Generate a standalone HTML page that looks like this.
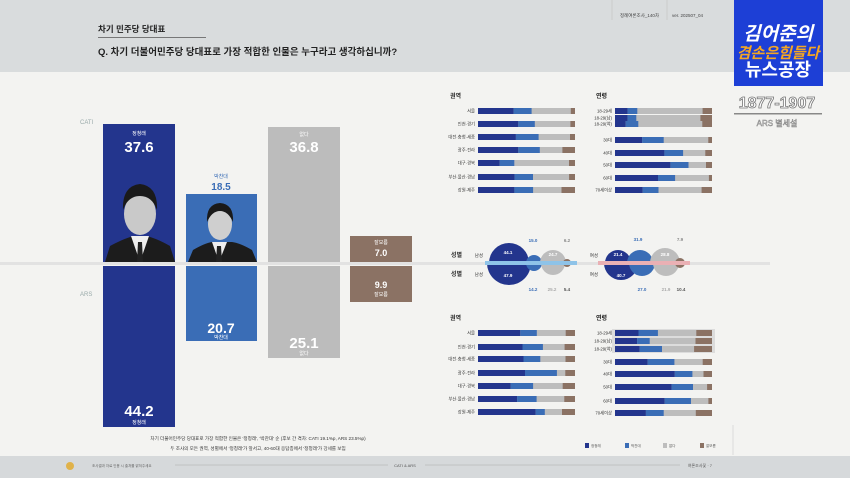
<!DOCTYPE html>
<html><head><meta charset="utf-8"><style>
html,body{margin:0;padding:0;width:850px;height:478px;overflow:hidden;background:#f3f3f1}
svg{display:block;font-family:"Liberation Sans","Noto Sans CJK KR",sans-serif}
</style></head><body>
<svg width="850" height="478" viewBox="0 0 850 478" xmlns="http://www.w3.org/2000/svg">
<rect x="0" y="0" width="850" height="72" fill="#d9dcdd"/>
<rect x="0" y="456" width="850" height="22" fill="#d6d9db"/>
<text x="98" y="32" font-size="8.5" font-weight="bold" fill="#222">차기 민주당 당대표</text>
<rect x="98" y="37" width="108" height="1" fill="#777"/>
<text x="98" y="55" font-size="9.5" font-weight="bold" fill="#222">Q. 차기 더불어민주당 당대표로 가장 적합한 인물은 누구라고 생각하십니까?</text>
<text x="620" y="17" font-size="4.5" fill="#444">정례여론조사_140차</text>
<text x="672" y="17" font-size="4.5" fill="#444">ver. 202507_04</text>
<line x1="667" y1="0" x2="667" y2="20" stroke="#bbb" stroke-width=".5"/>
<line x1="612" y1="0" x2="612" y2="20" stroke="#bbb" stroke-width=".5"/>
<!-- logo -->
<rect x="734" y="0" width="89" height="86" fill="#1d3fd6"/>
<text x="778" y="40" font-size="19" font-weight="bold" fill="#fff" text-anchor="middle" font-style="italic">김어준의</text>
<text x="778" y="58" font-size="15" font-weight="bold" fill="#f5a623" text-anchor="middle" font-style="italic">겸손은힘들다</text>
<text x="778" y="76" font-size="18" font-weight="bold" fill="#fff" text-anchor="middle">뉴스공장</text>
<text x="777" y="108" font-size="16" font-weight="bold" fill="#fff" stroke="#777" stroke-width=".8" text-anchor="middle">1877-1907</text>
<rect x="734" y="113" width="88" height="1.5" fill="#888"/>
<text x="777" y="126" font-size="8" fill="#fff" stroke="#888" stroke-width=".5" text-anchor="middle">ARS 별세설</text>
<!-- baseline -->
<rect x="0" y="262" width="770" height="3" fill="#e2e2e2"/>
<text x="80" y="124" font-size="6" fill="#9aa">CATI</text>
<text x="80" y="296" font-size="6" fill="#9aa">ARS</text>
<!-- main bars -->
<rect x="103" y="124" width="72" height="138" fill="#23358d"/>
<rect x="103" y="266" width="72" height="161" fill="#23358d"/>
<rect x="186" y="194" width="71" height="68" fill="#3a6db6"/>
<rect x="186" y="266" width="71" height="75" fill="#3a6db6"/>
<rect x="268" y="127" width="72" height="135" fill="#bcbcbc"/>
<rect x="268" y="266" width="72" height="92" fill="#bcbcbc"/>
<rect x="350" y="236" width="62" height="26" fill="#8b7264"/>
<rect x="350" y="266" width="62" height="36" fill="#8b7264"/>
<!-- photos -->
<path d="M105 262 L110 246 Q125 238 134 236 L146 236 Q156 238 170 246 L175 262Z" fill="#1c1c1c"/>
<path d="M131 236 L140 262 L149 236Z" fill="#eee"/>
<path d="M138 242 L142 242 L143 262 L137 262Z" fill="#222"/>
<ellipse cx="140" cy="214" rx="16" ry="21" fill="#c9c9c9"/>
<path d="M123 210 Q122 186 140 184 Q158 186 157 210 Q152 196 140 196 Q128 196 123 210Z" fill="#1a1a1a"/>
<path d="M188 262 L193 250 Q205 243 212 242 L232 242 Q240 243 252 250 L257 262Z" fill="#1c1c1c"/>
<path d="M212 242 L219 262 L227 242Z" fill="#eee"/>
<path d="M217 246 L221 246 L222 262 L216 262Z" fill="#222"/>
<ellipse cx="220" cy="224" rx="12" ry="16" fill="#cfcfcf"/>
<path d="M207 222 Q206 204 220 203 Q234 204 233 222 Q228 211 220 211 Q212 211 207 222Z" fill="#1a1a1a"/>
<!-- labels -->
<g fill="#fff" text-anchor="middle" font-weight="bold">
<text x="139" y="135" font-size="5" font-weight="normal">정청래</text>
<text x="139" y="152" font-size="15">37.6</text>
<text x="139" y="416" font-size="15">44.2</text>
<text x="139" y="424" font-size="5" font-weight="normal">정청래</text>
<text x="221" y="333" font-size="14">20.7</text>
<text x="221" y="339" font-size="5" font-weight="normal">박찬대</text>
<text x="304" y="136" font-size="5" font-weight="normal">없다</text>
<text x="304" y="152" font-size="15">36.8</text>
<text x="304" y="348" font-size="15">25.1</text>
<text x="304" y="355" font-size="5" font-weight="normal">없다</text>
<text x="381" y="244" font-size="5" font-weight="normal">잘모름</text>
<text x="381" y="256" font-size="9">7.0</text>
<text x="381" y="288" font-size="9">9.9</text>
<text x="381" y="296" font-size="5" font-weight="normal">잘모름</text>
</g>
<text x="221" y="178" font-size="5" fill="#3a6db6" text-anchor="middle">박찬대</text>
<text x="221" y="190" font-size="10" font-weight="bold" fill="#3a6db6" text-anchor="middle">18.5</text>
<g font-size="4.6" fill="#333" text-anchor="middle">
<text x="258" y="440">차기 더불어민주당 당대표로 가장 적합한 인물은 '정청래', '박찬대' 순 (후보 간 격차: CATI 19.1%p, ARS 23.5%p)</text>
<text x="258" y="450">두 조사의 모든 권역, 성별에서 '정청래'가 앞서고, 40-60대 응답층에서 '정청래'가 강세를 보임</text>
</g>
<!-- footer -->
<circle cx="70" cy="466" r="4" fill="#e0b24a"/>
<text x="92" y="467" font-size="3.5" fill="#666">조사결과 자료 인용 시 출처를 밝혀주세요</text>
<line x1="175" y1="465" x2="388" y2="465" stroke="#aaa" stroke-width=".5"/>
<text x="405" y="467" font-size="4" fill="#555" text-anchor="middle">CATI &amp; ARS</text>
<line x1="425" y1="465" x2="680" y2="465" stroke="#aaa" stroke-width=".5"/>
<text x="712" y="467" font-size="4" fill="#555" text-anchor="end">여론조사꽃 · 7</text>
<line x1="733" y1="425" x2="733" y2="455" stroke="#ccc" stroke-width=".6"/>

<!-- section headers -->
<g font-size="6" font-weight="bold" fill="#222">
<text x="450" y="98">권역</text><text x="596" y="98">연령</text>
<text x="450" y="320">권역</text><text x="596" y="320">연령</text>
</g>

<defs>
<g id="r"><rect x="0" y="-3" width="97" height="6" fill="#bdbdbd"/></g>
</defs>
<g font-size="4.3" fill="#333" text-anchor="end">
<!-- top region -->
<g transform="translate(0,111)"><text x="475" y="1.5">서울</text><rect x="478" y="-3" width="97" height="6" fill="#bdbdbd"/><rect x="478" y="-3" width="35.6" height="6" fill="#23358d"/><rect x="513.6" y="-3" width="18" height="6" fill="#3a6db6"/><rect x="570.8" y="-3" width="4.2" height="6" fill="#8b7264"/></g>
<g transform="translate(0,124)"><text x="475" y="1.5">인천·경기</text><rect x="478" y="-3" width="97" height="6" fill="#bdbdbd"/><rect x="478" y="-3" width="40.3" height="6" fill="#23358d"/><rect x="518.3" y="-3" width="16.5" height="6" fill="#3a6db6"/><rect x="570.4" y="-3" width="4.6" height="6" fill="#8b7264"/></g>
<g transform="translate(0,137)"><text x="475" y="1.5">대전·충청·세종</text><rect x="478" y="-3" width="97" height="6" fill="#bdbdbd"/><rect x="478" y="-3" width="37.9" height="6" fill="#23358d"/><rect x="515.9" y="-3" width="22.7" height="6" fill="#3a6db6"/><rect x="570" y="-3" width="5" height="6" fill="#8b7264"/></g>
<g transform="translate(0,150)"><text x="475" y="1.5">광주·전라</text><rect x="478" y="-3" width="97" height="6" fill="#bdbdbd"/><rect x="478" y="-3" width="40.3" height="6" fill="#23358d"/><rect x="518.3" y="-3" width="21.5" height="6" fill="#3a6db6"/><rect x="562.4" y="-3" width="12.6" height="6" fill="#8b7264"/></g>
<g transform="translate(0,163)"><text x="475" y="1.5">대구·경북</text><rect x="478" y="-3" width="97" height="6" fill="#bdbdbd"/><rect x="478" y="-3" width="21.7" height="6" fill="#23358d"/><rect x="499.7" y="-3" width="14.6" height="6" fill="#3a6db6"/><rect x="569" y="-3" width="6" height="6" fill="#8b7264"/></g>
<g transform="translate(0,177)"><text x="475" y="1.5">부산·울산·경남</text><rect x="478" y="-3" width="97" height="6" fill="#bdbdbd"/><rect x="478" y="-3" width="36.6" height="6" fill="#23358d"/><rect x="514.6" y="-3" width="18.4" height="6" fill="#3a6db6"/><rect x="569.1" y="-3" width="5.9" height="6" fill="#8b7264"/></g>
<g transform="translate(0,190)"><text x="475" y="1.5">강원·제주</text><rect x="478" y="-3" width="97" height="6" fill="#bdbdbd"/><rect x="478" y="-3" width="36.4" height="6" fill="#23358d"/><rect x="514.4" y="-3" width="18.7" height="6" fill="#3a6db6"/><rect x="561.5" y="-3" width="13.5" height="6" fill="#8b7264"/></g>
<!-- top age -->
<g transform="translate(0,111)"><text x="612" y="1.5">18-29세</text><rect x="615" y="-3" width="97" height="6" fill="#bdbdbd"/><rect x="615" y="-3" width="12.6" height="6" fill="#23358d"/><rect x="627.6" y="-3" width="9.7" height="6" fill="#3a6db6"/><rect x="702.6" y="-3" width="9.4" height="6" fill="#8b7264"/></g>
<g transform="translate(0,118)"><text x="612" y="1.5">18-29(남)</text><rect x="615" y="-3" width="97" height="6" fill="#bdbdbd"/><rect x="615" y="-3" width="12.6" height="6" fill="#23358d"/><rect x="627.6" y="-3" width="8.7" height="6" fill="#3a6db6"/><rect x="700.4" y="-3" width="11.6" height="6" fill="#8b7264"/></g>
<g transform="translate(0,124)"><text x="612" y="1.5">18-29(여)</text><rect x="615" y="-3" width="97" height="6" fill="#bdbdbd"/><rect x="615" y="-3" width="10.7" height="6" fill="#23358d"/><rect x="625.7" y="-3" width="12.6" height="6" fill="#3a6db6"/><rect x="702.3" y="-3" width="9.7" height="6" fill="#8b7264"/></g>
<g transform="translate(0,140)"><text x="612" y="1.5">30대</text><rect x="615" y="-3" width="97" height="6" fill="#bdbdbd"/><rect x="615" y="-3" width="27.1" height="6" fill="#23358d"/><rect x="642.1" y="-3" width="21.6" height="6" fill="#3a6db6"/><rect x="708.3" y="-3" width="3.7" height="6" fill="#8b7264"/></g>
<g transform="translate(0,153)"><text x="612" y="1.5">40대</text><rect x="615" y="-3" width="97" height="6" fill="#bdbdbd"/><rect x="615" y="-3" width="49.4" height="6" fill="#23358d"/><rect x="664.4" y="-3" width="18.7" height="6" fill="#3a6db6"/><rect x="705.3" y="-3" width="6.7" height="6" fill="#8b7264"/></g>
<g transform="translate(0,165)"><text x="612" y="1.5">50대</text><rect x="615" y="-3" width="97" height="6" fill="#bdbdbd"/><rect x="615" y="-3" width="55.4" height="6" fill="#23358d"/><rect x="670.4" y="-3" width="18.1" height="6" fill="#3a6db6"/><rect x="706" y="-3" width="6" height="6" fill="#8b7264"/></g>
<g transform="translate(0,178)"><text x="612" y="1.5">60대</text><rect x="615" y="-3" width="97" height="6" fill="#bdbdbd"/><rect x="615" y="-3" width="43" height="6" fill="#23358d"/><rect x="658" y="-3" width="17.1" height="6" fill="#3a6db6"/><rect x="708.9" y="-3" width="3.1" height="6" fill="#8b7264"/></g>
<g transform="translate(0,190)"><text x="612" y="1.5">70세이상</text><rect x="615" y="-3" width="97" height="6" fill="#bdbdbd"/><rect x="615" y="-3" width="27.7" height="6" fill="#23358d"/><rect x="642.7" y="-3" width="15.8" height="6" fill="#3a6db6"/><rect x="701.6" y="-3" width="10.4" height="6" fill="#8b7264"/></g>
<!-- bottom region -->
<g transform="translate(0,333)"><text x="475" y="1.5">서울</text><rect x="478" y="-3" width="97" height="6" fill="#bdbdbd"/><rect x="478" y="-3" width="42.3" height="6" fill="#23358d"/><rect x="520.3" y="-3" width="16.5" height="6" fill="#3a6db6"/><rect x="565.7" y="-3" width="9.3" height="6" fill="#8b7264"/></g>
<g transform="translate(0,347)"><text x="475" y="1.5">인천·경기</text><rect x="478" y="-3" width="97" height="6" fill="#bdbdbd"/><rect x="478" y="-3" width="44.5" height="6" fill="#23358d"/><rect x="522.5" y="-3" width="20.4" height="6" fill="#3a6db6"/><rect x="564.6" y="-3" width="10.4" height="6" fill="#8b7264"/></g>
<g transform="translate(0,359)"><text x="475" y="1.5">대전·충청·세종</text><rect x="478" y="-3" width="97" height="6" fill="#bdbdbd"/><rect x="478" y="-3" width="45.5" height="6" fill="#23358d"/><rect x="523.5" y="-3" width="16.8" height="6" fill="#3a6db6"/><rect x="565.5" y="-3" width="9.5" height="6" fill="#8b7264"/></g>
<g transform="translate(0,373)"><text x="475" y="1.5">광주·전라</text><rect x="478" y="-3" width="97" height="6" fill="#bdbdbd"/><rect x="478" y="-3" width="47" height="6" fill="#23358d"/><rect x="525" y="-3" width="31.9" height="6" fill="#3a6db6"/><rect x="565.3" y="-3" width="9.7" height="6" fill="#8b7264"/></g>
<g transform="translate(0,386)"><text x="475" y="1.5">대구·경북</text><rect x="478" y="-3" width="97" height="6" fill="#bdbdbd"/><rect x="478" y="-3" width="32.6" height="6" fill="#23358d"/><rect x="510.6" y="-3" width="22.5" height="6" fill="#3a6db6"/><rect x="562.7" y="-3" width="12.3" height="6" fill="#8b7264"/></g>
<g transform="translate(0,399)"><text x="475" y="1.5">부산·울산·경남</text><rect x="478" y="-3" width="97" height="6" fill="#bdbdbd"/><rect x="478" y="-3" width="39.1" height="6" fill="#23358d"/><rect x="517.1" y="-3" width="19.5" height="6" fill="#3a6db6"/><rect x="564.3" y="-3" width="10.7" height="6" fill="#8b7264"/></g>
<g transform="translate(0,412)"><text x="475" y="1.5">강원·제주</text><rect x="478" y="-3" width="97" height="6" fill="#bdbdbd"/><rect x="478" y="-3" width="57.7" height="6" fill="#23358d"/><rect x="535.7" y="-3" width="9.1" height="6" fill="#3a6db6"/><rect x="562" y="-3" width="13" height="6" fill="#8b7264"/></g>
<!-- bottom age -->
<rect x="612" y="329" width="103" height="24" fill="#dcdcdc"/>
<g transform="translate(0,333)"><text x="612" y="1.5">18-29세</text><rect x="615" y="-3" width="97" height="6" fill="#bdbdbd"/><rect x="615" y="-3" width="23.5" height="6" fill="#23358d"/><rect x="638.5" y="-3" width="19.4" height="6" fill="#3a6db6"/><rect x="696.3" y="-3" width="15.7" height="6" fill="#8b7264"/></g>
<g transform="translate(0,341)"><text x="612" y="1.5">18-29(남)</text><rect x="615" y="-3" width="97" height="6" fill="#bdbdbd"/><rect x="615" y="-3" width="22.1" height="6" fill="#23358d"/><rect x="637.1" y="-3" width="12.6" height="6" fill="#3a6db6"/><rect x="695.5" y="-3" width="16.5" height="6" fill="#8b7264"/></g>
<g transform="translate(0,349)"><text x="612" y="1.5">18-29(여)</text><rect x="615" y="-3" width="97" height="6" fill="#bdbdbd"/><rect x="615" y="-3" width="24.7" height="6" fill="#23358d"/><rect x="639.7" y="-3" width="22.3" height="6" fill="#3a6db6"/><rect x="694.1" y="-3" width="17.9" height="6" fill="#8b7264"/></g>
<g transform="translate(0,362)"><text x="612" y="1.5">30대</text><rect x="615" y="-3" width="97" height="6" fill="#bdbdbd"/><rect x="615" y="-3" width="32.7" height="6" fill="#23358d"/><rect x="647.7" y="-3" width="26.7" height="6" fill="#3a6db6"/><rect x="702.7" y="-3" width="9.3" height="6" fill="#8b7264"/></g>
<g transform="translate(0,374)"><text x="612" y="1.5">40대</text><rect x="615" y="-3" width="97" height="6" fill="#bdbdbd"/><rect x="615" y="-3" width="59.8" height="6" fill="#23358d"/><rect x="674.8" y="-3" width="17.6" height="6" fill="#3a6db6"/><rect x="703.5" y="-3" width="8.5" height="6" fill="#8b7264"/></g>
<g transform="translate(0,387)"><text x="612" y="1.5">50대</text><rect x="615" y="-3" width="97" height="6" fill="#bdbdbd"/><rect x="615" y="-3" width="56.6" height="6" fill="#23358d"/><rect x="671.6" y="-3" width="21.4" height="6" fill="#3a6db6"/><rect x="707.1" y="-3" width="4.9" height="6" fill="#8b7264"/></g>
<g transform="translate(0,401)"><text x="612" y="1.5">60대</text><rect x="615" y="-3" width="97" height="6" fill="#bdbdbd"/><rect x="615" y="-3" width="49.7" height="6" fill="#23358d"/><rect x="664.7" y="-3" width="26.3" height="6" fill="#3a6db6"/><rect x="708.4" y="-3" width="3.6" height="6" fill="#8b7264"/></g>
<g transform="translate(0,413)"><text x="612" y="1.5">70세이상</text><rect x="615" y="-3" width="97" height="6" fill="#bdbdbd"/><rect x="615" y="-3" width="30.9" height="6" fill="#23358d"/><rect x="645.9" y="-3" width="17.8" height="6" fill="#3a6db6"/><rect x="695.8" y="-3" width="16.2" height="6" fill="#8b7264"/></g>
</g>

<!-- gender bubbles -->
<g font-size="4.5" fill="#333" text-anchor="end">
<text x="462" y="257" font-weight="bold" font-size="6">성별</text>
<text x="462" y="276" font-weight="bold" font-size="6">성별</text>
<text x="483" y="257">남성</text><text x="483" y="276">남성</text>
<text x="598" y="257">여성</text><text x="598" y="276">여성</text>
</g>
<path d="M489 263 A20 20 0 0 1 529 263Z" fill="#23358d"/>
<path d="M487 263 A22 22 0 0 0 531 263Z" fill="#23358d"/>
<path d="M526 263 A8 8 0 0 1 542 263Z" fill="#3a6db6"/>
<path d="M526 263 A8 8 0 0 0 542 263Z" fill="#3a6db6"/>
<path d="M540 263 A13 13 0 0 1 566 263Z" fill="#bdbdbd"/>
<path d="M541 263 A12 12 0 0 0 565 263Z" fill="#bdbdbd"/>
<path d="M563 263 A4 4 0 0 1 571 263Z" fill="#8b7264"/>
<path d="M563 263 A4 4 0 0 0 571 263Z" fill="#8b7264"/>
<rect x="485" y="261" width="92" height="4" fill="#8ec3e8"/>
<path d="M605 263 A13 13 0 0 1 631 263Z" fill="#23358d"/>
<path d="M604 263 A17 17 0 0 0 638 263Z" fill="#23358d"/>
<path d="M627 263 A13 13 0 0 1 653 263Z" fill="#3a6db6"/>
<path d="M629 263 A13 13 0 0 0 655 263Z" fill="#3a6db6"/>
<path d="M650 263 A15 15 0 0 1 680 263Z" fill="#bdbdbd"/>
<path d="M653 263 A13 13 0 0 0 679 263Z" fill="#bdbdbd"/>
<path d="M675 263 A5 5 0 0 1 685 263Z" fill="#8b7264"/>
<path d="M675 263 A5 5 0 0 0 685 263Z" fill="#8b7264"/>
<rect x="598" y="261" width="92" height="4" fill="#eab0b4"/>
<g font-size="4.5" text-anchor="middle" font-weight="bold">
<text x="508" y="254" fill="#fff">44.1</text><text x="508" y="277" fill="#fff">47.9</text>
<text x="533" y="242" fill="#3a6db6">15.0</text><text x="533" y="291" fill="#3a6db6">14.2</text>
<text x="553" y="256" fill="#fff">24.7</text><text x="552" y="291" fill="#aaa">25.2</text>
<text x="567" y="242" fill="#888">6.2</text><text x="567" y="291" fill="#555">5.4</text>
<text x="618" y="256" fill="#fff">21.4</text><text x="621" y="277" fill="#fff">40.7</text>
<text x="638" y="241" fill="#3a6db6">31.9</text><text x="642" y="291" fill="#3a6db6">27.0</text>
<text x="665" y="256" fill="#fff">28.8</text><text x="666" y="291" fill="#aaa">21.9</text>
<text x="680" y="241" fill="#888">7.9</text><text x="681" y="291" fill="#555">10.4</text>
</g>
<!-- legend -->
<g font-size="3.5" fill="#555">
<rect x="585" y="443" width="4" height="5" fill="#23358d"/><text x="591" y="447">정청래</text>
<rect x="625" y="443" width="4" height="5" fill="#3a6db6"/><text x="631" y="447">박찬대</text>
<rect x="663" y="443" width="4" height="5" fill="#bdbdbd"/><text x="669" y="447">없다</text>
<rect x="700" y="443" width="4" height="5" fill="#8b7264"/><text x="706" y="447">잘모름</text>
</g>
</svg>
</body></html>
